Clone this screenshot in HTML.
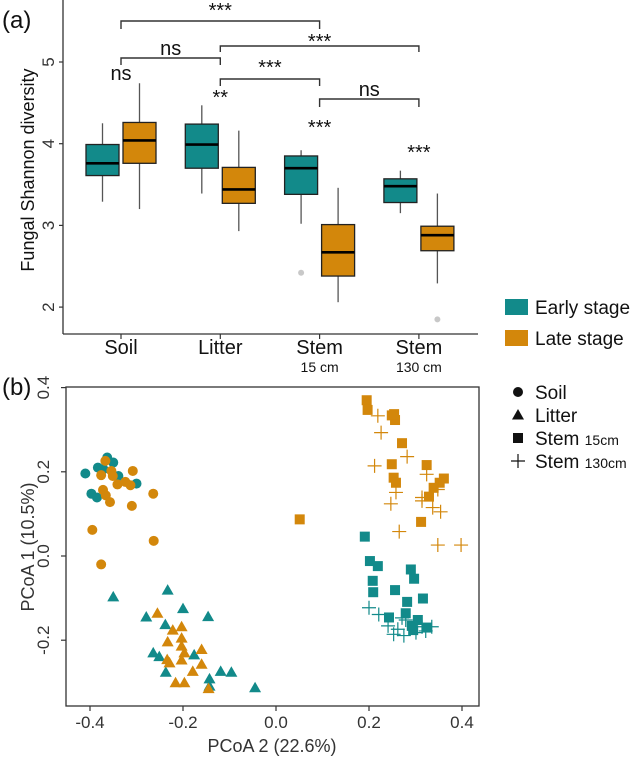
<!DOCTYPE html>
<html><head><meta charset="utf-8">
<style>
html,body{margin:0;padding:0;background:#fff;}
svg{display:block;font-family:"Liberation Sans",Arial,sans-serif;}
</style></head>
<body>
<svg id="fig" width="630" height="758" viewBox="0 0 630 758">
<text x="2" y="28" font-size="24" fill="#111">(a)</text>
<text x="2" y="395" font-size="24" fill="#111">(b)</text>
<g id="pa"></g>
<g id="pb"></g>
</svg>
<script>
// ---------- Panel (a) data ----------
const categories = ["Soil","Litter","Stem","Stem"];
const subLabels = ["","","15 cm","130 cm"];
const earlyStats = [ // [low, q1, median, q3, high]
  [3.29,3.61,3.76,3.99,4.25],
  [3.39,3.70,3.99,4.24,4.47],
  [3.02,3.38,3.70,3.85,3.92],
  [3.15,3.28,3.48,3.57,3.67]];
const lateStats = [
  [3.20,3.76,4.04,4.26,4.74],
  [2.93,3.27,3.44,3.71,4.16],
  [2.06,2.38,2.67,3.01,3.46],
  [2.29,2.69,2.88,2.99,3.39]];
const earlyOutliers = [[],[],[2.42],[]];
const lateOutliers = [[],[],[],[1.85]];
const yTicksA = [2,3,4,5];

// ---------- Panel (b) data ----------
const soilEarly = [[-0.41,0.196],[-0.383,0.21],[-0.363,0.234],[-0.35,0.222],[-0.339,0.19],[-0.3,0.172],[-0.397,0.148],[-0.385,0.139],[-0.371,0.206]];
const soilLate = [[-0.367,0.226],[-0.376,0.192],[-0.354,0.202],[-0.351,0.19],[-0.341,0.17],[-0.324,0.176],[-0.313,0.168],[-0.308,0.202],[-0.264,0.148],[-0.372,0.157],[-0.366,0.144],[-0.357,0.128],[-0.31,0.119],[-0.395,0.062],[-0.263,0.036],[-0.376,-0.02]];
const litterEarly = [[-0.35,-0.097],[-0.233,-0.081],[-0.279,-0.145],[-0.2,-0.125],[-0.146,-0.144],[-0.238,-0.163],[-0.264,-0.23],[-0.251,-0.239],[-0.176,-0.235],[-0.237,-0.276],[-0.119,-0.274],[-0.096,-0.276],[-0.143,-0.292],[-0.045,-0.313],[-0.143,-0.309]];
const litterLate = [[-0.255,-0.136],[-0.222,-0.176],[-0.203,-0.168],[-0.233,-0.204],[-0.203,-0.195],[-0.203,-0.214],[-0.197,-0.23],[-0.16,-0.222],[-0.234,-0.246],[-0.203,-0.247],[-0.16,-0.257],[-0.179,-0.274],[-0.216,-0.301],[-0.197,-0.301],[-0.145,-0.315],[-0.229,-0.254]];
const stem15Early = [[0.191,0.046],[0.202,-0.012],[0.219,-0.024],[0.208,-0.059],[0.209,-0.086],[0.256,-0.081],[0.29,-0.032],[0.297,-0.054],[0.282,-0.109],[0.316,-0.101],[0.279,-0.136],[0.243,-0.146],[0.305,-0.152],[0.295,-0.176],[0.324,-0.17],[0.292,-0.166]];
const stem15Late = [[0.195,0.37],[0.197,0.347],[0.249,0.334],[0.256,0.323],[0.254,0.337],[0.271,0.268],[0.249,0.218],[0.324,0.216],[0.253,0.186],[0.258,0.174],[0.361,0.184],[0.352,0.174],[0.339,0.162],[0.329,0.141],[0.312,0.081],[0.051,0.087]];
const stem130Early = [[0.2,-0.123],[0.221,-0.139],[0.241,-0.166],[0.262,-0.174],[0.253,-0.186],[0.275,-0.189],[0.279,-0.152],[0.314,-0.168],[0.335,-0.168],[0.322,-0.178],[0.271,-0.147],[0.301,-0.182]];
const stem130Late = [[0.219,0.333],[0.226,0.293],[0.212,0.214],[0.282,0.236],[0.258,0.151],[0.247,0.124],[0.265,0.058],[0.324,0.194],[0.348,0.158],[0.314,0.139],[0.337,0.115],[0.354,0.105],[0.348,0.026],[0.398,0.026],[0.314,0.131]];
const xTicksB = [-0.4,-0.2,0.0,0.2,0.4];
const yTicksB = [-0.2,0.0,0.2,0.4];

const TEAL="#128a8a", ORANGE="#d3870b", AX="#333";
const NS="http://www.w3.org/2000/svg";
function mk(parent, tag, attrs, text){
  const e=document.createElementNS(NS,tag);
  for(const k in attrs) e.setAttribute(k,attrs[k]);
  if(text!==undefined) e.textContent=text;
  parent.appendChild(e); return e;
}
// ---------- Panel (a) ----------
const pa=document.getElementById('pa');
const ya=v=>62+(5-v)*81.7;
const xa=i=>121+i*99.3;
let el;
el=mk(pa,'line',{x1:63,y1:0,x2:63,y2:334,stroke:AX,'stroke-width':1.3});


el=mk(pa,'line',{x1:63,y1:334,x2:478,y2:334,stroke:AX,'stroke-width':1.3});


yTicksA.forEach(t=>{
  mk(pa,'line',{x1:59,y1:ya(t),x2:63,y2:ya(t),stroke:AX,'stroke-width':1.2});
  el=mk(pa,'text',{x:0,y:0,'font-size':17,fill:'#333','text-anchor':'middle',transform:`translate(54,${ya(t)}) rotate(-90)`},String(t));
  
  
});
el=mk(pa,'text',{x:0,y:0,'font-size':18,fill:'#111','text-anchor':'middle',transform:'translate(34,170) rotate(-90)'},'Fungal Shannon diversity');


categories.forEach((c,i)=>{
  mk(pa,'line',{x1:xa(i),y1:334,x2:xa(i),y2:339,stroke:AX,'stroke-width':1.2});
  el=mk(pa,'text',{x:xa(i),y:354,'font-size':20,fill:'#111','text-anchor':'middle'},c);
  
  
  if(subLabels[i]){
    el=mk(pa,'text',{x:xa(i),y:372,'font-size':14,fill:'#111','text-anchor':'middle'},subLabels[i]);
    
    
  }
});
function drawBox(s,cx,col,outs,name){
  const g=mk(pa,'g',{});
  
  
  mk(g,'line',{x1:cx,y1:ya(s[0]),x2:cx,y2:ya(s[4]),stroke:'#555','stroke-width':1.3});
  mk(g,'rect',{x:cx-16.5,y:ya(s[3]),width:33,height:ya(s[1])-ya(s[3]),fill:col,stroke:'#222','stroke-width':1.3});
  mk(g,'line',{x1:cx-16.5,y1:ya(s[2]),x2:cx+16.5,y2:ya(s[2]),stroke:'#000','stroke-width':2.6});
  outs.forEach(o=>{
    const c=mk(g,'circle',{cx:cx,cy:ya(o),r:3,fill:'#c8c8c8'});
    
    
  });
}
earlyStats.forEach((s,i)=>drawBox(s,xa(i)-18.5,TEAL,earlyOutliers[i],'box-early-'+i));
lateStats.forEach((s,i)=>drawBox(s,xa(i)+18.5,ORANGE,lateOutliers[i],'box-late-'+i));
// brackets
const brackets=[[0,2,21,8,'***',17],[1,3,46,6,'***',48],[0,1,58,7,'ns',55],[1,2,79,7,'***',74],[2,3,99,8,'ns',96]];
brackets.forEach(b=>{
  const x1=xa(b[0]),x2=xa(b[1]);
  el=mk(pa,'path',{d:`M${x1},${b[2]+b[3]}V${b[2]}H${x2}V${b[2]+b[3]}`,fill:'none',stroke:'#333','stroke-width':1.4});
  
  
  el=mk(pa,'text',{x:(x1+x2)/2,y:b[5],'font-size':20,fill:'#111','text-anchor':'middle'},b[4]);
  
  
});
const sigs=[[0,'ns',80],[1,'**',104],[2,'***',134],[3,'***',159]];
sigs.forEach(s=>{
  el=mk(pa,'text',{x:xa(s[0]),y:s[2],'font-size':20,fill:'#111','text-anchor':'middle'},s[1]);
  
  
});
// legend a
[[TEAL,'Early stage',299],[ORANGE,'Late stage',330]].forEach(l=>{
  el=mk(pa,'rect',{x:505,y:l[2],width:23,height:16,fill:l[0]});
  
  
  el=mk(pa,'text',{x:535,y:l[2]+15,'font-size':19,fill:'#111'},l[1]);
  
  
});
// ---------- Panel (b) ----------
const pb=document.getElementById('pb');
const xb=v=>276+v*465;
const yb=v=>556-v*421;
el=mk(pb,'rect',{x:66,y:387,width:413,height:319,fill:'none',stroke:AX,'stroke-width':1.3});


xTicksB.forEach(t=>{
  mk(pb,'line',{x1:xb(t),y1:706,x2:xb(t),y2:711,stroke:AX,'stroke-width':1.2});
  el=mk(pb,'text',{x:xb(t),y:728,'font-size':17,fill:'#333','text-anchor':'middle'},t.toFixed(1));
  
  
});
yTicksB.forEach(t=>{
  mk(pb,'line',{x1:61,y1:yb(t),x2:66,y2:yb(t),stroke:AX,'stroke-width':1.2});
  el=mk(pb,'text',{x:0,y:0,'font-size':17,fill:'#333','text-anchor':'middle',transform:`translate(49,${yb(t)}) rotate(-90)`},t.toFixed(1));
  
  
});
el=mk(pb,'text',{x:272,y:752,'font-size':18,fill:'#333','text-anchor':'middle'},'PCoA 2 (22.6%)');


el=mk(pb,'text',{x:0,y:0,'font-size':18,fill:'#333','text-anchor':'middle',transform:'translate(34,547) rotate(-90)'},'PCoA 1 (10.5%)');


function marker(g,shape,x,y,col){
  let e;
  if(shape==='circle') e=mk(g,'circle',{cx:x,cy:y,r:5,fill:col});
  else if(shape==='tri') e=mk(g,'path',{d:`M${x},${y-6}L${x+6},${y+4.5}L${x-6},${y+4.5}Z`,fill:col});
  else if(shape==='square') e=mk(g,'rect',{x:x-5,y:y-5,width:10,height:10,fill:col});
  else e=mk(g,'path',{d:`M${x-7},${y}H${x+7}M${x},${y-7}V${y+7}`,stroke:col,'stroke-width':1.2,fill:'none'});
  return e;
}
const series=[[soilEarly,'circle',TEAL,'soil-early'],[soilLate,'circle',ORANGE,'soil-late'],
 [litterEarly,'tri',TEAL,'litter-early'],[litterLate,'tri',ORANGE,'litter-late'],
 [stem15Early,'square',TEAL,'stem15-early'],[stem15Late,'square',ORANGE,'stem15-late'],
 [stem130Early,'cross',TEAL,'stem130-early'],[stem130Late,'cross',ORANGE,'stem130-late']];
series.forEach(s=>{
  const g=mk(pb,'g',{});
  
  
  s[0].forEach(p=>{
    const m=marker(g,s[1],xb(p[0]),yb(p[1]),s[2]);
    
    
  });
});
// legend b
const legB=[['circle','Soil',''],['tri','Litter',''],['square','Stem ','15cm'],['cross','Stem ','130cm']];
legB.forEach((l,i)=>{
  const y=392+i*23;
  const g=mk(pb,'g',{});
  
  
  marker(g,l[0],518,y,'#111');
  const t=mk(g,'text',{x:535,y:y+7,'font-size':19,fill:'#111'},l[1]);
  if(l[2]){ mk(t,'tspan',{'font-size':14},l[2]); }
});
</script>
</body></html>
